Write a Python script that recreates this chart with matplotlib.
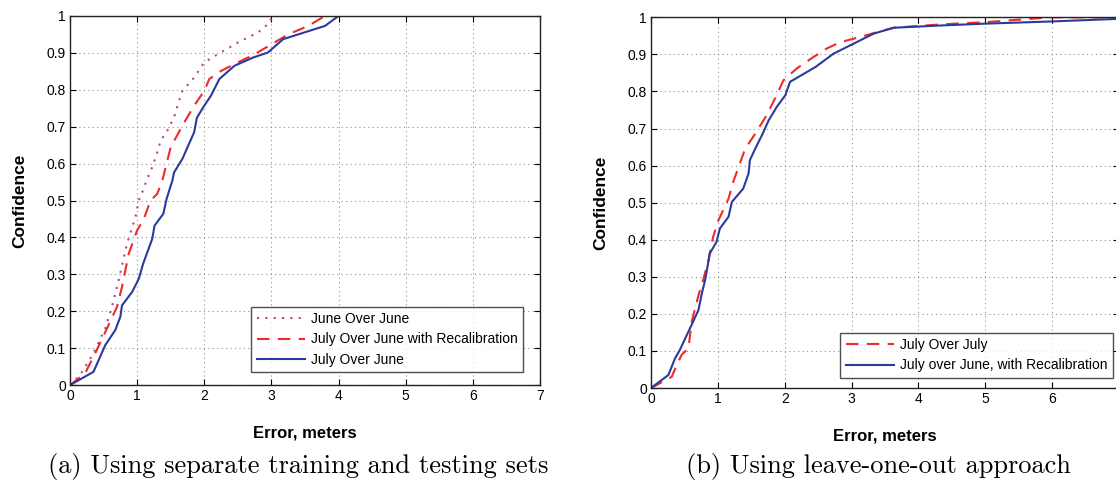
import matplotlib
matplotlib.use('Agg')
import matplotlib.pyplot as plt

# (a) separate training and testing sets
june_june_x = [0, 0.15, 0.35, 0.525, 0.625, 0.725, 0.85, 0.975, 1.025, 1.075, 1.15, 1.225, 1.3,
               1.35, 1.45, 1.55, 1.625, 1.675, 1.85, 2.0, 2.2, 2.5, 2.8, 2.975, 3.01]
june_june_y = [0, 0.027, 0.086, 0.153, 0.212, 0.284, 0.383, 0.455, 0.5, 0.522, 0.559, 0.59, 0.631,
               0.662, 0.689, 0.725, 0.77, 0.797, 0.833, 0.874, 0.896, 0.928, 0.955, 0.982, 1.0]

recal_x = [0, 0.225, 0.375, 0.55, 0.7, 0.775, 0.875, 1.0, 1.1, 1.2, 1.3, 1.375, 1.425, 1.5,
           1.675, 1.85, 2.0, 2.075, 2.25, 2.5, 2.75, 3.0, 3.25, 3.55, 3.8]
recal_y = [0, 0.032, 0.086, 0.153, 0.212, 0.266, 0.356, 0.419, 0.45, 0.5, 0.518, 0.554, 0.59, 0.644,
           0.703, 0.757, 0.797, 0.829, 0.851, 0.874, 0.896, 0.923, 0.95, 0.973, 1.0]

july_june_x = [0, 0.35, 0.525, 0.675, 0.75, 0.775, 0.925, 1.025, 1.09, 1.225, 1.26, 1.39, 1.44,
               1.525, 1.55, 1.675, 1.75, 1.85, 1.89, 1.99, 2.1, 2.225, 2.45, 2.725, 2.95, 3.175,
               3.8, 4.0]
july_june_y = [0, 0.036, 0.108, 0.149, 0.185, 0.216, 0.252, 0.288, 0.329, 0.396, 0.432, 0.464, 0.505,
               0.554, 0.576, 0.613, 0.644, 0.685, 0.724, 0.754, 0.784, 0.829, 0.865, 0.887, 0.901,
               0.937, 0.973, 1.0]

# (b) leave-one-out
july_july_x = [0, 0.31, 0.385, 0.46, 0.56, 0.61, 0.71, 0.78, 0.86, 0.93, 1.01, 1.16, 1.23, 1.33,
               1.41, 1.56, 1.73, 1.88, 1.98, 2.18, 2.43, 2.63, 2.83, 3.13, 3.38, 3.63, 4.33, 5.0,
               5.97, 7.0]
july_july_y = [0, 0.03, 0.062, 0.09, 0.107, 0.179, 0.25, 0.291, 0.345, 0.408, 0.453, 0.511, 0.556,
               0.606, 0.646, 0.686, 0.736, 0.79, 0.83, 0.862, 0.893, 0.916, 0.933, 0.947, 0.96,
               0.972, 0.981, 0.987, 1.0, 1.0]

recal_loo_x = [0, 0.26, 0.36, 0.43, 0.63, 0.71, 0.76, 0.81, 0.88, 0.98, 1.03, 1.16, 1.21, 1.38,
               1.46, 1.48, 1.56, 1.66, 1.76, 1.88, 2.01, 2.08, 2.46, 2.73, 3.03, 3.33, 3.63, 4.33,
               5.0, 6.0, 7.0]
recal_loo_y = [0, 0.035, 0.08, 0.102, 0.179, 0.21, 0.255, 0.291, 0.363, 0.394, 0.43, 0.462, 0.502,
               0.538, 0.579, 0.615, 0.646, 0.682, 0.722, 0.758, 0.79, 0.826, 0.866, 0.902, 0.929,
               0.956, 0.972, 0.978, 0.983, 0.989, 0.996]

xticks = [0, 1, 2, 3, 4, 5, 6, 7]
yticks = [0, 0.1, 0.2, 0.3, 0.4, 0.5, 0.6, 0.7, 0.8, 0.9, 1]
ytick_labels = ['0', '0.1', '0.2', '0.3', '0.4', '0.5', '0.6', '0.7', '0.8', '0.9', '1']

purple = '#b4458f'
red = '#f02a2a'
blue = '#2b3a9c'

plt.rcParams['font.family'] = ['Liberation Sans', 'DejaVu Sans']

fig = plt.figure(figsize=(11.16, 4.82), dpi=100)
ax1 = fig.add_axes([0.0627, 0.201, 0.4211, 0.766])
ax2 = fig.add_axes([0.5833, 0.195, 0.4194, 0.769])


def style(ax):
    ax.set_xlim(0, 7)
    ax.set_ylim(0, 1)
    ax.set_xticks(xticks)
    ax.set_yticks(yticks)
    ax.set_yticklabels(ytick_labels)
    ax.tick_params(direction='in', top=True, right=True, labelsize=10, length=4, pad=3)
    ax.grid(True, linestyle=(0, (1, 3)), color='#909090', linewidth=0.8)
    for s in ax.spines.values():
        s.set_linewidth(1.0)
        s.set_color('#222222')
    ax.set_xlabel('Error, meters', fontsize=12, fontweight='bold', labelpad=16)
    ax.set_ylabel('Confidence', fontsize=12.5, fontweight='bold', labelpad=14)


ax1.plot(june_june_x, june_june_y, linestyle=(0, (1, 3)), color=purple, linewidth=1.5,
         label='June Over June')
ax1.plot(recal_x, recal_y, linestyle=(0, (6, 4)), color=red, linewidth=1.5,
         label='July Over June with Recalibration')
ax1.plot(july_june_x, july_june_y, linestyle='-', color=blue, linewidth=1.5,
         label='July Over June')
style(ax1)
ax1.legend(loc='lower right', bbox_to_anchor=(0.964, 0.035), borderaxespad=0, fontsize=10,
           frameon=True, fancybox=False, edgecolor='#222222', handlelength=3.5, borderpad=0.4,
           labelspacing=0.45, handletextpad=0.4)

ax2.plot(july_july_x, july_july_y, linestyle=(0, (6, 4)), color=red, linewidth=1.5,
         label='July Over July')
ax2.plot(recal_loo_x, recal_loo_y, linestyle='-', color=blue, linewidth=1.5,
         label='July over June, with Recalibration')
style(ax2)
# the figure is cropped at the right, so the last tick label is not shown
ax2.set_xticklabels([str(t) for t in xticks[:-1]] + [''])
ax2.legend(loc='lower right', bbox_to_anchor=(0.987, 0.027), borderaxespad=0, fontsize=10,
           frameon=True, fancybox=False, edgecolor='#222222', handlelength=3.5, borderpad=0.4,
           labelspacing=0.45, handletextpad=0.4)

fig.text(0.267, 0.018, '(a) Using separate training and testing sets', family='cmr10',
         fontsize=19, ha='center')
fig.text(0.787, 0.018, '(b) Using leave-one-out approach', family='cmr10',
         fontsize=19, ha='center')

fig.savefig('out.png', dpi=100)
